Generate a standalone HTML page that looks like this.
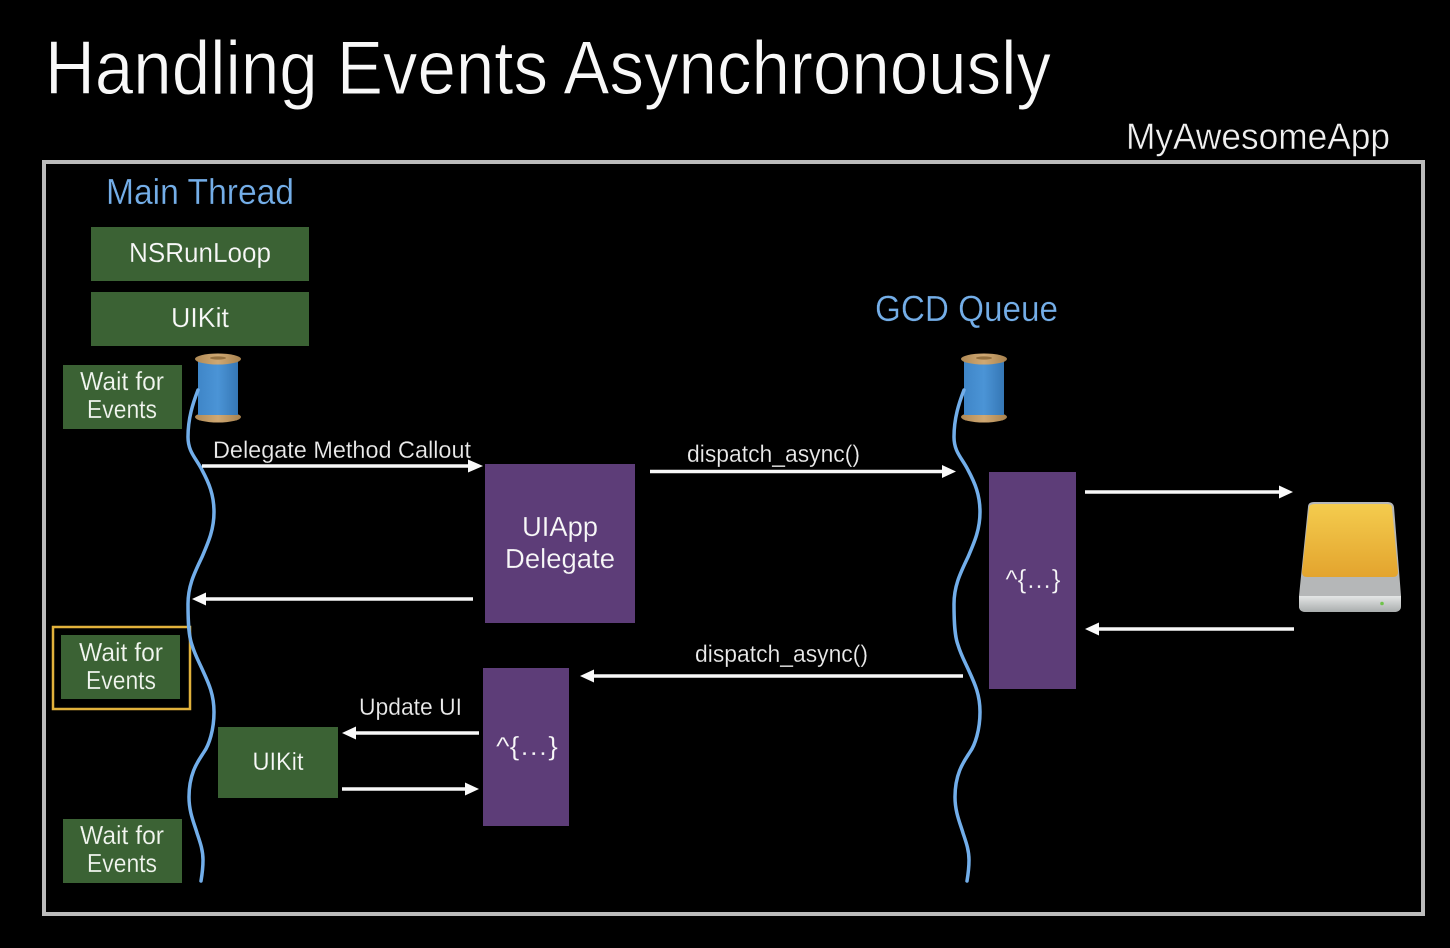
<!DOCTYPE html>
<html><head><meta charset="utf-8"><style>
html,body{margin:0;padding:0;background:#000;width:1450px;height:948px;overflow:hidden}
svg{display:block;filter:blur(.35px)}
text{font-family:"Liberation Sans",sans-serif;fill:#f8f8f8}
.b{fill:#74aee8;stroke:#000;stroke-width:.3}
.w{font-size:26px;fill:#f2f6f0;stroke:#3b6234;stroke-width:.2}
.l{font-size:24px;fill:#ececec;stroke:#000;stroke-width:.2}
.g{fill:#3b6234}
.p{fill:#5d3d78}
.pt{stroke:#5d3d78;stroke-width:.2}
.gt{stroke:#3b6234;stroke-width:.2}
.t{fill:none;stroke:#72aeea;stroke-width:3.5;stroke-linecap:round}
.a{stroke:#f8f8f8;stroke-width:3.5}
.h{fill:#fafafa}
</style></head><body>
<svg width="1450" height="948" viewBox="0 0 1450 948" xmlns="http://www.w3.org/2000/svg">
<defs>
<linearGradient id="sp" x1="0" x2="1" y1="0" y2="0"><stop offset="0" stop-color="#3f86c8"/><stop offset=".5" stop-color="#4b94d6"/><stop offset="1" stop-color="#3577b5"/></linearGradient>
<linearGradient id="wd" x1="0" x2="1" y1="0" y2="0"><stop offset="0" stop-color="#b08a55"/><stop offset=".5" stop-color="#cfa873"/><stop offset="1" stop-color="#a8824e"/></linearGradient>
<linearGradient id="yl" x1="0" x2="0" y1="0" y2="1"><stop offset="0" stop-color="#f4cc4e"/><stop offset="1" stop-color="#e3a42e"/></linearGradient>
<linearGradient id="sv" x1="0" x2="0" y1="0" y2="1"><stop offset="0" stop-color="#e4e6e6"/><stop offset="1" stop-color="#a9adad"/></linearGradient>
<g id="spool">
<ellipse cx="0" cy="63" rx="23" ry="5.500" fill="url(#wd)"/>
<rect x="-20" y="6" width="40" height="55" fill="url(#sp)"/>
<ellipse cx="0" cy="5" rx="23" ry="5.500" fill="url(#wd)"/>
<ellipse cx="0" cy="4" rx="8" ry="1.600" fill="#94703f"/>
</g>
<path id="thr" class="t" d="M198,390 C193,403 188,418 188,437 C188,452 196,458 202,470 C209,483 214,495 214,512 C214,530 208,543 202,557 C195,572 188,585 188,604 C188,625 189,637 192,645 C195,655 199,662 203,671 C209,684 214,695 214,712 C214,730 209,745 204,752 C199,760 189,772 189,797 C189,812 194,823 197,833 C200,842 203,850 203,860 C203,868 202,875 201,881"/>
</defs>
<rect width="1450" height="948" fill="#000"/>

<text x="45" y="94" font-size="76" textLength="1006" lengthAdjust="spacingAndGlyphs" fill="#fff" stroke="#000" stroke-width=".9">Handling Events Asynchronously</text>
<text x="1126" y="149" font-size="37" textLength="264" lengthAdjust="spacingAndGlyphs" style="fill:#f0f0f0" stroke="#000" stroke-width=".45">MyAwesomeApp</text>

<rect x="44" y="162" width="1379" height="752" fill="none" stroke="#bcbcbc" stroke-width="4"/>

<text class="b" x="106" y="204" font-size="36" textLength="188" lengthAdjust="spacingAndGlyphs">Main Thread</text>
<text class="b" x="875" y="321" font-size="36" textLength="183" lengthAdjust="spacingAndGlyphs">GCD Queue</text>

<rect class="g" x="91" y="227" width="218" height="54"/>
<rect class="g" x="91" y="292" width="218" height="54"/>
<text class="gt" x="200" y="262" font-size="28" text-anchor="middle" textLength="142" lengthAdjust="spacingAndGlyphs">NSRunLoop</text>
<text class="gt" x="200" y="327" font-size="28" text-anchor="middle" textLength="58" lengthAdjust="spacingAndGlyphs">UIKit</text>

<rect class="g" x="63" y="365" width="119" height="64"/>
<text class="w" x="122" y="390" text-anchor="middle" textLength="84" lengthAdjust="spacingAndGlyphs">Wait for</text>
<text class="w" x="122" y="418" text-anchor="middle" textLength="70" lengthAdjust="spacingAndGlyphs">Events</text>

<rect x="53" y="627" width="137" height="82" fill="none" stroke="#e2b23c" stroke-width="2.500"/>
<rect class="g" x="61" y="635" width="119" height="64"/>
<text class="w" x="121" y="661" text-anchor="middle" textLength="84" lengthAdjust="spacingAndGlyphs">Wait for</text>
<text class="w" x="121" y="689" text-anchor="middle" textLength="70" lengthAdjust="spacingAndGlyphs">Events</text>

<rect class="g" x="63" y="819" width="119" height="64"/>
<text class="w" x="122" y="844" text-anchor="middle" textLength="84" lengthAdjust="spacingAndGlyphs">Wait for</text>
<text class="w" x="122" y="872" text-anchor="middle" textLength="70" lengthAdjust="spacingAndGlyphs">Events</text>

<rect class="g" x="218" y="727" width="120" height="71"/>
<text class="gt" x="278" y="770" font-size="25" text-anchor="middle" textLength="51" lengthAdjust="spacingAndGlyphs">UIKit</text>

<use href="#spool" transform="translate(218,354)"/>
<use href="#spool" transform="translate(984,354)"/>
<use href="#thr"/>
<use href="#thr" transform="translate(766,0)"/>

<rect class="p" x="485" y="464" width="150" height="159"/>
<text class="pt" x="560" y="536" font-size="28" text-anchor="middle" textLength="76" lengthAdjust="spacingAndGlyphs">UIApp</text>
<text class="pt" x="560" y="568" font-size="28" text-anchor="middle" textLength="110" lengthAdjust="spacingAndGlyphs">Delegate</text>

<rect class="p" x="989" y="472" width="87" height="217"/>
<text class="pt" x="1033" y="588" font-size="26" text-anchor="middle" textLength="55" lengthAdjust="spacingAndGlyphs">^{…}</text>

<rect class="p" x="483" y="668" width="86" height="158"/>
<text class="pt" x="527" y="755" font-size="26" text-anchor="middle" textLength="62" lengthAdjust="spacingAndGlyphs">^{…}</text>

<text class="l" x="213" y="458" textLength="258" lengthAdjust="spacingAndGlyphs">Delegate Method Callout</text>
<text class="l" x="687" y="462" textLength="173" lengthAdjust="spacingAndGlyphs">dispatch_async()</text>
<text class="l" x="695" y="662" textLength="173" lengthAdjust="spacingAndGlyphs">dispatch_async()</text>
<text class="l" x="359" y="715" textLength="103" lengthAdjust="spacingAndGlyphs">Update UI</text>

<line class="a" x1="202" y1="466" x2="470" y2="466"/><polygon class="h" points="483,466 468,459.500 468,472.500"/>
<line class="a" x1="650" y1="471.500" x2="944" y2="471.500"/><polygon class="h" points="956,471.500 942,465 942,478"/>
<line class="a" x1="1085" y1="492" x2="1282" y2="492"/><polygon class="h" points="1293,492 1279,485.500 1279,498.500"/>
<line class="a" x1="1294" y1="629" x2="1096" y2="629"/><polygon class="h" points="1085,629 1099,622.500 1099,635.500"/>
<line class="a" x1="473" y1="599" x2="204" y2="599"/><polygon class="h" points="192,599 206,592.500 206,605.500"/>
<line class="a" x1="963" y1="676" x2="592" y2="676"/><polygon class="h" points="580,676 594,669.500 594,682.500"/>
<line class="a" x1="479" y1="733" x2="354" y2="733"/><polygon class="h" points="342,733 356,726.500 356,739.500"/>
<line class="a" x1="342" y1="789" x2="468" y2="789"/><polygon class="h" points="479,789 465,782.500 465,795.500"/>

<path d="M1308,507 Q1308,502 1314,502 L1388,502 Q1393,502 1394,507 L1401,596 L1401,606 Q1401,612 1394,612 L1306,612 Q1299,612 1299,606 L1299,596 Z" fill="#b5b7b8"/>
<path d="M1309,508 Q1309,504 1315,504 L1387,504 Q1392,504 1392,508 L1398,572 Q1398,577 1393,577 L1307,577 Q1302,577 1302,572 Z" fill="url(#yl)"/>
<path d="M1299,596 L1401,596 L1401,606 Q1401,612 1394,612 L1306,612 Q1299,612 1299,606 Z" fill="url(#sv)"/>
<circle cx="1382" cy="603.500" r="1.800" fill="#6fc34a"/>
</svg>
</body></html>
